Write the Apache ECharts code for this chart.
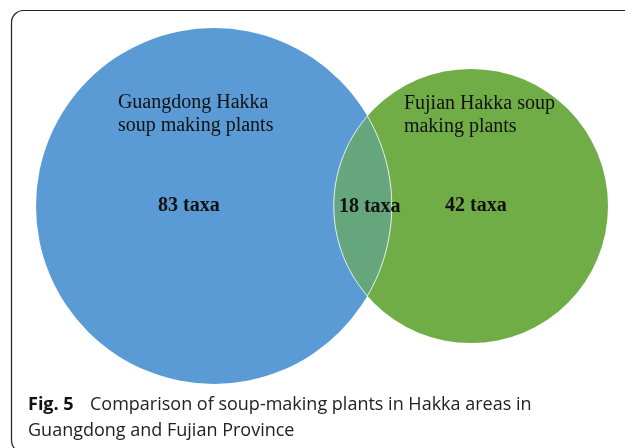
<!DOCTYPE html>
<html>
<head>
<meta charset="utf-8">
<script src="https://cdn.jsdelivr.net/npm/echarts@6/dist/echarts.min.js"></script>
<style>html,body{margin:0;padding:0;background:#fff;}#c{width:625px;height:448px;}</style>
</head>
<body>
<div id="c"></div>
<script>
// ---- data ----
const setNames = ['Guangdong Hakka\nsoup making plants', 'Fujian Hakka soup\nmaking plants'];
const onlyCounts = [83, 42];
const overlapCount = 18;
const countUnit = 'taxa';
const captionBold = 'Fig. 5';
const captionLines = ['Comparison of soup-making plants in Hakka areas in', 'Guangdong and Fujian Province'];

// ---- layout ----
const totals = onlyCounts.map(v => v + overlapCount);
const radii = totals.map(v => Math.sqrt(v));      // area proportional
const centerGap = 14.52;                          // distance between centres (layout)
const centers = [[0, 0], [centerGap, 0]];

const colors = ['#5b9bd5', '#70ad47'];
const lensColor = '#65a67c';

const chart = echarts.init(document.getElementById('c'), null, {renderer: 'canvas'});

function renderItem(params, api) {
  const c0 = api.coord(centers[0]);
  const c1 = api.coord(centers[1]);
  const r0 = api.size([radii[0], 0])[0];
  const r1 = api.size([radii[1], 0])[0];
  const children = [];
  children.push({type: 'circle', shape: {cx: c0[0], cy: c0[1], r: r0}, style: {fill: colors[0]}});
  children.push({type: 'circle', shape: {cx: c1[0], cy: c1[1], r: r1}, style: {fill: colors[1]}});
  // lens (intersection)
  const d = c1[0] - c0[0];
  const a = (d * d + r0 * r0 - r1 * r1) / (2 * d);
  const h = Math.sqrt(r0 * r0 - a * a);
  const t0 = Math.atan2(h, a);
  const t1 = Math.atan2(h, d - a);
  const N = 80;
  const lensPts = [];
  for (let i = 0; i <= N; i++) {
    const t = -t0 + (2 * t0) * i / N;
    lensPts.push([c0[0] + r0 * Math.cos(t), c0[1] + r0 * Math.sin(t)]);
  }
  const s1 = Math.PI - t1;
  for (let i = 0; i <= N; i++) {
    const t = s1 + (2 * t1) * i / N;
    lensPts.push([c1[0] + r1 * Math.cos(t), c1[1] + r1 * Math.sin(t)]);
  }
  children.push({type: 'polygon', shape: {points: lensPts},
    style: {fill: lensColor, stroke: 'rgba(255,255,255,0.85)', lineWidth: 1}});

  const nameFont = '20px "Liberation Serif"';
  const cntFont = 'bold 20px "Liberation Serif"';
  children.push({type: 'text', x: c0[0] - 96, y: c0[1] - 115,
    style: {text: setNames[0], font: nameFont, fill: '#111', lineHeight: 23, align: 'left', verticalAlign: 'top'}});
  children.push({type: 'text', x: c1[0] - 67, y: c1[1] - 114,
    style: {text: setNames[1], font: nameFont, fill: '#111', lineHeight: 23, align: 'left', verticalAlign: 'top'}});
  children.push({type: 'text', x: c0[0] - 25, y: c0[1],
    style: {text: onlyCounts[0] + ' ' + countUnit, font: cntFont, fill: '#111', align: 'center', verticalAlign: 'middle'}});
  children.push({type: 'text', x: c1[0] + 5, y: c1[1],
    style: {text: onlyCounts[1] + ' ' + countUnit, font: cntFont, fill: '#111', align: 'center', verticalAlign: 'middle'}});
  children.push({type: 'text', x: (c0[0] + r0 + c1[0] - r1) / 2 + 7, y: c0[1] + 1,
    style: {text: overlapCount + ' ' + countUnit, font: cntFont, fill: '#111', align: 'center', verticalAlign: 'middle'}});
  return {type: 'group', children: children};
}

chart.setOption({
  animation: false,
  grid: {left: 36, width: 572, top: 28, height: 356},
  xAxis: {type: 'value', min: -radii[0], max: centerGap + radii[1], show: false},
  yAxis: {type: 'value', min: -radii[0], max: radii[0], show: false},
  graphic: [
    {type: 'rect', shape: {x: 11.5, y: 10.5, width: 700, height: 442, r: 12},
     style: {fill: 'none', stroke: '#222', lineWidth: 1.2}, z: 0},
    {type: 'text', left: 28, top: 396, style: {text: captionBold, font: 'bold 18px "Open Sans"', fill: '#111'}},
    {type: 'text', left: 90, top: 396, style: {text: captionLines[0], font: '18px "Open Sans"', fill: '#222'}},
    {type: 'text', left: 28, top: 422, style: {text: captionLines[1], font: '18px "Open Sans"', fill: '#222'}}
  ],
  series: [{
    type: 'custom',
    coordinateSystem: 'cartesian2d',
    renderItem: renderItem,
    data: [[0, 0]],
    clip: false
  }]
});
</script>
</body>
</html>
